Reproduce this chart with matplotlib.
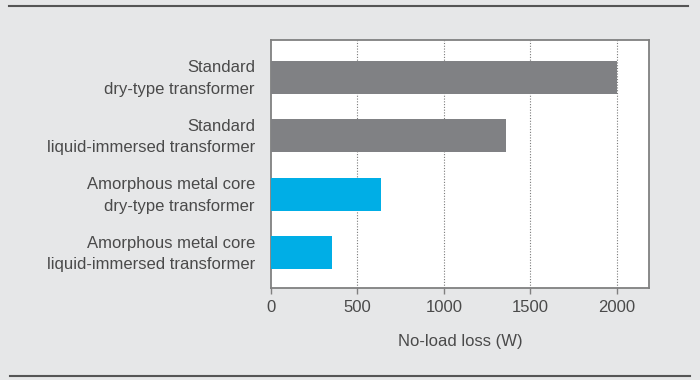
import matplotlib
matplotlib.use("Agg")
import matplotlib.pyplot as plt
from matplotlib.lines import Line2D
from matplotlib.transforms import ScaledTranslation, blended_transform_factory

# No-load losses by transformer type
categories = [
    "Standard\ndry-type transformer",
    "Standard\nliquid-immersed transformer",
    "Amorphous metal core\ndry-type transformer",
    "Amorphous metal core\nliquid-immersed transformer",
]
losses = [2000, 1360, 635, 350]
bar_colors = ["#808184", "#808184", "#00aee6", "#00aee6"]
xticks = [0, 500, 1000, 1500, 2000]

plt.rcParams["font.family"] = ["Liberation Sans", "DejaVu Sans"]
text_color = "#4a4a4a"
bg = "#e6e7e8"

fig = plt.figure(figsize=(7, 3.8), dpi=100, facecolor=bg)
ax = fig.add_axes([271 / 700, 1 - 288 / 380, 378 / 700, 248 / 380])
ax.set_facecolor("white")

y = list(range(len(categories)))
ax.barh(y, losses, height=0.565, color=bar_colors, zorder=3)

ax.set_xlim(0, 2185)
ax.set_ylim(3.6, -0.64)
ax.set_xticks(xticks)
ax.set_xticklabels([str(t) for t in xticks])
ax.set_yticks(y)
ax.set_yticklabels([])

# category labels, right-aligned left of the axes and centred on each bar
label_tf = blended_transform_factory(ax.transAxes, ax.transData) + \
    ScaledTranslation(-0.16, -0.01, fig.dpi_scale_trans)
for yi, name in zip(y, categories):
    ax.text(0, yi, name, transform=label_tf, ha="right", va="center",
            fontsize=12, color=text_color, linespacing=1.55)

for t in xticks[1:]:
    ax.axvline(t, color="#7a7a7a", lw=0.8, ls=(0, (1, 1.5)), zorder=1)

for s in ax.spines.values():
    s.set_color("#808080")
    s.set_linewidth(1.3)

ax.tick_params(axis="x", length=4, width=1, color="#808080", pad=5,
               labelsize=12, labelcolor=text_color, direction="out")
ax.tick_params(axis="y", length=0)

ax.set_xlabel("No-load loss (W)", fontsize=12, color=text_color, labelpad=13.5)

# horizontal rules framing the figure
fig.add_artist(Line2D([9 / 700, 688 / 700], [1 - 6 / 380, 1 - 6 / 380],
                      color="#555555", lw=1.5, transform=fig.transFigure))
fig.add_artist(Line2D([10 / 700, 690 / 700], [1 - 376 / 380, 1 - 376 / 380],
                      color="#555555", lw=1.5, transform=fig.transFigure))

fig.savefig("out.png", dpi=100, facecolor=bg)
